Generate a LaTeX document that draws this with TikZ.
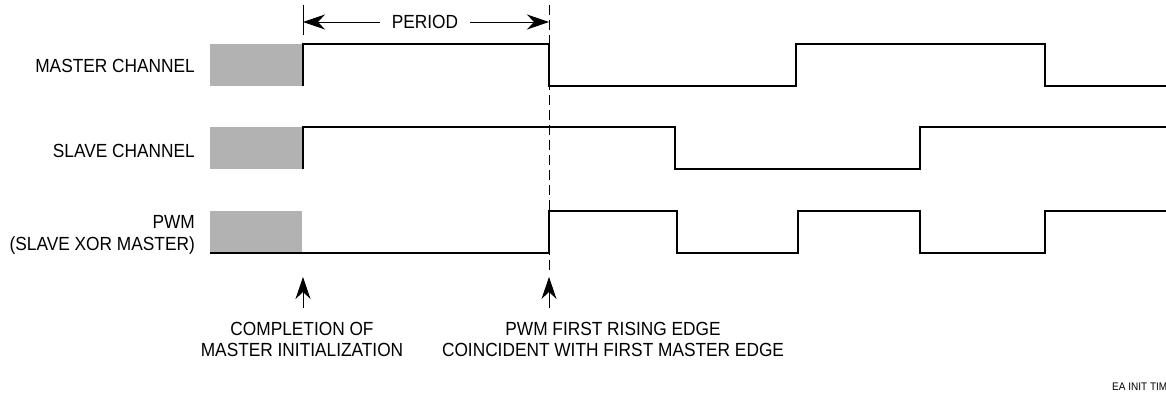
\documentclass[tikz,border=0pt]{standalone}
\usepackage{fontspec}
\setmainfont[FakeStretch=0.91]{Liberation Sans}
\usetikzlibrary{arrows.meta}
\begin{document}
\begin{tikzpicture}[x=1pt,y=-1pt,
  sig/.style={line width=1.4pt, line join=miter},
  initbox/.style={fill=black!30, draw=none},
  lbl/.style={font=\fontsize{19}{21.5}\selectfont, inner sep=0pt},
  smalllbl/.style={font=\fontsize{11}{12}\selectfont, inner sep=0pt},
  tipline/.style={line width=0.9pt, -{Stealth[length=22pt,width=15pt,inset=7pt]}},
  guide/.style={line width=0.9pt}]
\useasboundingbox (0,0) rectangle (1166,393);
% initialization areas
\fill[initbox] (210,44) rectangle (302,86);
\fill[initbox] (210,127) rectangle (302,169);
\fill[initbox] (210,211) rectangle (302,253);
% waveforms
\draw[sig] (303,86) -- (303,44) -- (549,44) -- (549,86) -- (796,86) -- (796,44)
  -- (1045,44) -- (1045,86) -- (1166,86);
\draw[sig] (303,169) -- (303,127) -- (675,127) -- (675,169) -- (920,169)
  -- (920,127) -- (1166,127);
\draw[sig] (210,253) -- (549,253) -- (549,211) -- (677,211) -- (677,253)
  -- (798,253) -- (798,211) -- (920,211) -- (920,253) -- (1045,253)
  -- (1045,211) -- (1166,211);
% guides
\coordinate (tickTop) at (303,5);
\coordinate (tickBot) at (303,35);
\coordinate (dashTop) at (549,5);
\coordinate (dashBot) at (549,272);
\draw[guide] (tickTop) -- (tickBot);
\draw[guide, dash pattern=on 10pt off 5pt] (dashTop) -- (dashBot);
% period
\coordinate (perL) at (303,22);
\coordinate (perR) at (549,22);
\node[lbl, inner xsep=12pt] (period) at (425,22) {PERIOD};
\draw[tipline] (period.west) -- (perL);
\draw[tipline] (period.east) -- (perR);
% channel labels
\node[lbl, anchor=base east] (mlab) at (195,73) {MASTER CHANNEL};
\node[lbl, anchor=base east] (slab) at (195,157) {SLAVE CHANNEL};
\node[lbl, anchor=east, align=right] (plab) at (195,235) {PWM\\(SLAVE XOR MASTER)};
% bottom notes
\node[lbl, anchor=north, align=center] (note1) at (302,322) {COMPLETION OF\\MASTER INITIALIZATION};
\node[lbl, anchor=north, align=center] (note2) at (613,322) {PWM FIRST RISING EDGE\\COINCIDENT WITH FIRST MASTER EDGE};
\coordinate (a1tail) at (303,308);
\coordinate (a1tip) at (303,277);
\coordinate (a2tail) at (549,308);
\coordinate (a2tip) at (549,277);
\draw[tipline] (a1tail) -- (a1tip);
\draw[tipline] (a2tail) -- (a2tip);
\node[smalllbl, anchor=base west] (fig) at (1112,390) {EA INIT TIM};
\end{tikzpicture}
\end{document}
